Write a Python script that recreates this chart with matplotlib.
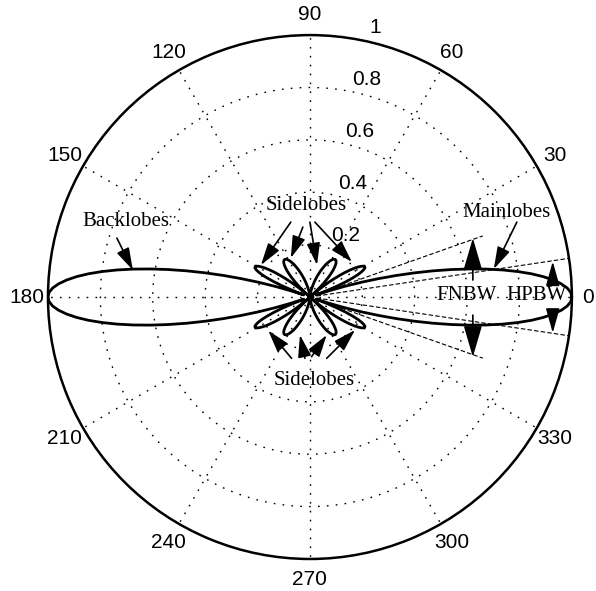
import numpy as np
import matplotlib
matplotlib.use("Agg")
import matplotlib.pyplot as plt

# normalised pattern |AF|, one value per degree from 0 to 90
angles_deg = np.arange(0, 91)
af_quarter = [
    1.000, 0.996, 0.983, 0.961, 0.931, 0.894, 0.850, 0.799, 0.743, 0.682,
    0.617, 0.550, 0.481, 0.411, 0.341, 0.272, 0.206, 0.142, 0.081, 0.025,
    0.027, 0.073, 0.114, 0.149, 0.178, 0.202, 0.219, 0.231, 0.238, 0.239,
    0.236, 0.228, 0.216, 0.202, 0.184, 0.164, 0.141, 0.118, 0.094, 0.069,
    0.044, 0.019, 0.004, 0.027, 0.049, 0.069, 0.088, 0.105, 0.120, 0.133,
    0.144, 0.153, 0.161, 0.166, 0.170, 0.172, 0.173, 0.172, 0.170, 0.167,
    0.162, 0.157, 0.151, 0.145, 0.138, 0.130, 0.122, 0.114, 0.106, 0.098,
    0.090, 0.082, 0.074, 0.067, 0.060, 0.053, 0.046, 0.040, 0.034, 0.029,
    0.024, 0.019, 0.015, 0.012, 0.009, 0.006, 0.004, 0.002, 0.001, 0.000,
    0.000,
]
fnbw_deg = 19.47
hpbw_deg = 8.5
ring_values = [0.2, 0.4, 0.6, 0.8, 1.0]
ring_labels = ["0.2", "0.4", "0.6", "0.8", "1"]
spoke_deg = list(range(0, 360, 30))
spoke_labels = [str(a) for a in spoke_deg]

# pattern is symmetric about both axes
af = np.array(af_quarter)
deg_full = np.concatenate([angles_deg, 180 - angles_deg[::-1], 180 + angles_deg, 360 - angles_deg[::-1]])
r_full = np.concatenate([af, af[::-1], af, af[::-1]])

serif = ["Liberation Serif", "DejaVu Serif"]
sans = ["Liberation Sans", "DejaVu Sans"]


def pol(x, y):
    # cartesian (in units of rmax) -> polar data coords
    return (np.arctan2(y, x), np.hypot(x, y))


fig = plt.figure(figsize=(5.96, 5.91), dpi=100)
ax = fig.add_axes([0.0805, 0.0541, 0.879, 0.8866], polar=True)
ax.set_ylim(0, 1)
ax.grid(False)
ax.set_xticks([])
ax.set_yticks([])
ax.spines["polar"].set_linewidth(1.8)
ax.spines["polar"].set_color("k")

dot = (0, (1.2, 5.2))
circ = np.linspace(0, 2 * np.pi, 400)
for rv in ring_values[:-1]:
    ax.plot(circ, np.full_like(circ, rv), color="k", lw=1, ls=dot, zorder=1)
for a in spoke_deg:
    ax.plot([np.radians(a)] * 2, [0, 1], color="k", lw=1, ls=dot, zorder=1)

# beamwidth guide lines
for a, rr in [(fnbw_deg, 0.70), (-fnbw_deg, 0.70), (hpbw_deg, 1.0), (-hpbw_deg, 1.0)]:
    ax.plot([np.radians(a)] * 2, [0, rr], color="k", lw=0.8, ls=(0, (4, 2)), zorder=2)

ax.plot(np.radians(deg_full), r_full, color="k", lw=2, zorder=3)

# angle labels
for a, lab in zip(spoke_deg, spoke_labels):
    rl = 1.06 if a == 0 else 1.08
    ax.text(np.radians(a), rl, lab, ha="center", va="center",
            fontsize=15, family=sans)
# radius labels
c82, s82 = np.cos(np.radians(82.5)), np.sin(np.radians(82.5))
for rv, lab in zip(ring_values, ring_labels):
    dx = 0.095 if lab == "1" else 0.055
    ax.text(*pol(rv * c82 + dx, rv * s82 + 0.015), lab, ha="left",
            va="baseline", fontsize=15, family=sans)

tkw = dict(fontsize=15, family=serif, ha="center", va="center")
big = dict(arrowstyle="-|>,head_length=0.9,head_width=0.27", color="k",
           lw=1.2, shrinkA=0, shrinkB=0, mutation_scale=15)

ax.text(*pol(-0.702, 0.290), "Backlobes", **tkw)
ax.annotate("", xy=pol(-0.676, 0.103), xytext=pol(-0.737, 0.225), arrowprops=big)

ax.text(*pol(0.752, 0.324), "Mainlobes", **tkw)
ax.annotate("", xy=pol(0.702, 0.107), xytext=pol(0.790, 0.286), arrowprops=big)

ax.text(*pol(-0.015, 0.351), "Sidelobes", **tkw)
for tail, tip in [((-0.073, 0.286), (-0.187, 0.122)),
                  ((-0.027, 0.267), (-0.073, 0.149)),
                  ((0.000, 0.286), (0.027, 0.122)),
                  ((0.019, 0.286), (0.160, 0.134))]:
    ax.annotate("", xy=pol(*tip), xytext=pol(*tail), arrowprops=big)

ax.text(*pol(0.015, -0.317), "Sidelobes", **tkw)
for tail, tip in [((-0.070, -0.234), (-0.159, -0.128)),
                  ((-0.019, -0.234), (-0.038, -0.145)),
                  ((0.006, -0.228), (0.064, -0.145)),
                  ((0.064, -0.234), (0.172, -0.126))]:
    ax.annotate("", xy=pol(*tip), xytext=pol(*tail), arrowprops=big)

ax.text(*pol(0.599, 0.005), "FNBW", **tkw)
ax.text(*pol(0.866, 0.005), "HPBW", **tkw)
fn = dict(big, arrowstyle="-|>,head_length=1.3,head_width=0.38")
ax.annotate("", xy=pol(0.622, 0.225), xytext=pol(0.622, 0.065), arrowprops=fn)
ax.annotate("", xy=pol(0.622, -0.229), xytext=pol(0.622, -0.069), arrowprops=fn)
hp = dict(big, arrowstyle="-|>,head_length=1.0,head_width=0.28")
ax.annotate("", xy=pol(0.927, 0.136), xytext=pol(0.927, 0.070), arrowprops=hp)
ax.annotate("", xy=pol(0.927, -0.137), xytext=pol(0.927, -0.069), arrowprops=hp)

fig.savefig("out.png")
